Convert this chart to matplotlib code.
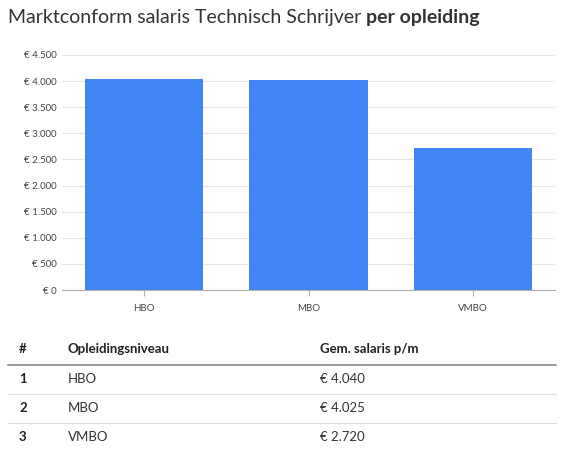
import matplotlib
matplotlib.use("Agg")
import matplotlib.pyplot as plt

categories = ["HBO", "MBO", "VMBO"]
values = [4040, 4025, 2720]
value_labels = ["€ 4.040", "€ 4.025", "€ 2.720"]
yticks = [0, 500, 1000, 1500, 2000, 2500, 3000, 3500, 4000, 4500]

plt.rcParams['font.family'] = ['Lato', 'DejaVu Sans']
W, H = 566, 451
fig = plt.figure(figsize=(W/100, H/100), dpi=100)

def fx(x): return x / W
def fy(y): return 1 - y / H

fig.text(fx(8), fy(18), "Marktconform salaris Technisch Schrijver ", fontsize=14, color="#333333", va="center", ha="left")
t = fig.text(fx(8), fy(18), "Marktconform salaris Technisch Schrijver ", fontsize=14, color="#333333", va="center", ha="left", alpha=0)
fig.canvas.draw()
bb = t.get_window_extent()
fig.text(bb.x1 / W, fy(18), "per opleiding", fontsize=14, fontweight="bold", color="#333333", va="center", ha="left")

ax = fig.add_axes([fx(62), fy(290), fx(555) - fx(62), fy(55) - fy(290)])
ax.bar(categories, values, width=0.72, color="#4285F4", zorder=3)
ax.set_ylim(0, 4500)
ax.set_xlim(-0.5, 2.5)
ax.set_yticks(yticks)
ax.set_yticklabels(["€ " + f"{v:,}".replace(",", ".") for v in yticks])
ax.grid(axis="y", color="#E6E6E6", linewidth=0.8, zorder=0)
for s in ["top", "right", "left"]:
    ax.spines[s].set_visible(False)
ax.spines["bottom"].set_color("#B0B0B0")
ax.tick_params(axis="y", length=0, labelsize=7, colors="#444444", pad=4)
ax.tick_params(axis="x", length=4, color="#B0B0B0", labelsize=7, labelcolor="#444444", pad=6)

# table
fs = 9.5
fig.text(fx(19), fy(349), "#", fontsize=fs, fontweight="bold", color="#222222", va="center")
fig.text(fx(68), fy(349), "Opleidingsniveau", fontsize=fs, fontweight="bold", color="#222222", va="center")
fig.text(fx(320), fy(349), "Gem. salaris p/m", fontsize=fs, fontweight="bold", color="#222222", va="center")
fig.add_artist(plt.Line2D([fx(8), fx(556)], [fy(365), fy(365)], color="#888888", linewidth=1.2))
rows_y = [379, 408, 437]
for i, (c, v, y) in enumerate(zip(categories, value_labels, rows_y)):
    fig.text(fx(19), fy(y), str(i + 1), fontsize=fs, fontweight="bold", color="#222222", va="center")
    fig.text(fx(68), fy(y), c, fontsize=fs, color="#333333", va="center")
    fig.text(fx(320), fy(y), v, fontsize=fs, color="#333333", va="center")
    ly = y + 15
    if ly < H:
        fig.add_artist(plt.Line2D([fx(8), fx(556)], [fy(ly), fy(ly)], color="#DDDDDD", linewidth=0.8))

fig.savefig("out.png", dpi=100)
